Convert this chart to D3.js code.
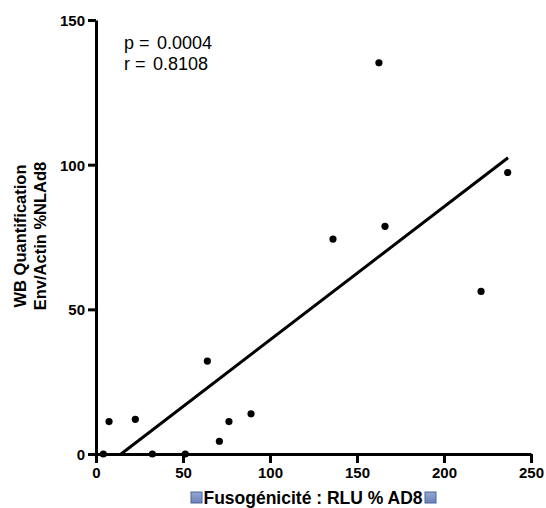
<!DOCTYPE html>
<html>
<head>
<meta charset="utf-8">
<script src="https://cdn.jsdelivr.net/npm/d3@7"></script>
<style>
  html, body { margin: 0; padding: 0; background: #fff; }
  svg { display: block; }
</style>
</head>
<body>
<svg id="chart" width="546" height="508"></svg>
<script>
// ---- data ----
const fusogenicity = [4.2, 7.5, 22.6, 32.4, 51.3, 64, 70.9, 76.4, 89.1, 136.2, 162.6, 166.1, 221.3, 236.6];
const wbQuant      = [0, 11.2, 12, 0, 0, 32.1, 4.4, 11.2, 13.9, 74.3, 135.2, 78.7, 56.2, 97.3];
const fitX = [14.4, 236.8];
const fitY = [0, 102.4];
const xTicks = [0, 50, 100, 150, 200, 250];
const yTicks = [0, 50, 100, 150];
const statLabels = ["p =", "r ="];
const statValues = ["0.0004", "0.8108"];
const yTitleLines = ["WB Quantification", "Env/Actin %NLAd8"];
const xTitle = "Fusogénicité : RLU % AD8";

const svg = d3.select("#chart");
const font = "'Liberation Sans', Arial, Helvetica, sans-serif";

const x = d3.scaleLinear().domain([0, 250]).range([96, 531]);
const y = d3.scaleLinear().domain([0, 150]).range([454, 20]);

// axes
const xAxis = d3.axisBottom(x).tickValues(xTicks).tickSize(9).tickSizeOuter(0).tickPadding(4);
const yAxis = d3.axisLeft(y).tickValues(yTicks).tickSize(8).tickSizeOuter(0).tickPadding(3);

const gx = svg.append("g").attr("transform", `translate(0,${y(0)})`).call(xAxis);
const gy = svg.append("g").attr("transform", `translate(${x(0)},0)`).call(yAxis);

[gx, gy].forEach(g => {
  g.select(".domain").attr("stroke", "#000").attr("stroke-width", 3);
  g.selectAll(".tick line").attr("stroke", "#000").attr("stroke-width", 3);
  g.selectAll(".tick text")
    .attr("fill", "#000")
    .style("font-family", font)
    .style("font-size", "15px")
    .style("font-weight", "bold");
});
gy.selectAll(".tick text").attr("dy", "0.36em");

// regression line
svg.append("line")
  .attr("x1", x(fitX[0])).attr("y1", y(fitY[0]))
  .attr("x2", x(fitX[1])).attr("y2", y(fitY[1]))
  .attr("stroke", "#000").attr("stroke-width", 3);

// points
svg.append("g").selectAll("circle")
  .data(fusogenicity.map((v, i) => [v, wbQuant[i]]))
  .join("circle")
  .attr("cx", d => x(d[0]))
  .attr("cy", d => y(d[1]))
  .attr("r", 3.6)
  .attr("fill", "#000");

// stats annotation
const statG = svg.append("g").style("font-family", font).style("font-size", "18px").attr("fill", "#000");
const valX = [157, 153];
statLabels.forEach((lab, i) => {
  statG.append("text").attr("x", 124).attr("y", 49 + i * 20.5).text(lab);
  statG.append("text").attr("x", valX[i]).attr("y", 49 + i * 20.5).text(statValues[i]);
});

// y title
const yt = svg.append("text")
  .attr("transform", "translate(0,236) rotate(-90)")
  .attr("text-anchor", "middle")
  .style("font-family", font)
  .style("font-size", "16.5px")
  .style("font-weight", "bold")
  .attr("fill", "#000");
yTitleLines.forEach((t, i) => {
  yt.append("tspan").attr("x", 0).attr("y", 26 + i * 20).text(t);
});

// x title with squares
const defs = svg.append("defs");
const grad = defs.append("linearGradient").attr("id", "sq").attr("x1", 0).attr("y1", 0).attr("x2", 0).attr("y2", 1);
grad.append("stop").attr("offset", "0%").attr("stop-color", "#93a8d4");
grad.append("stop").attr("offset", "100%").attr("stop-color", "#6a82b8");

const xt = svg.append("text")
  .attr("x", 313).attr("y", 504)
  .attr("text-anchor", "middle")
  .style("font-family", font)
  .style("font-size", "17.5px")
  .style("font-weight", "bold")
  .attr("fill", "#000")
  .text(xTitle);

[191, 425].forEach(sx => {
  svg.append("rect")
    .attr("x", sx).attr("y", 492).attr("width", 11).attr("height", 11)
    .attr("fill", "url(#sq)").attr("stroke", "#4e6496").attr("stroke-width", 1);
});
</script>
</body>
</html>
